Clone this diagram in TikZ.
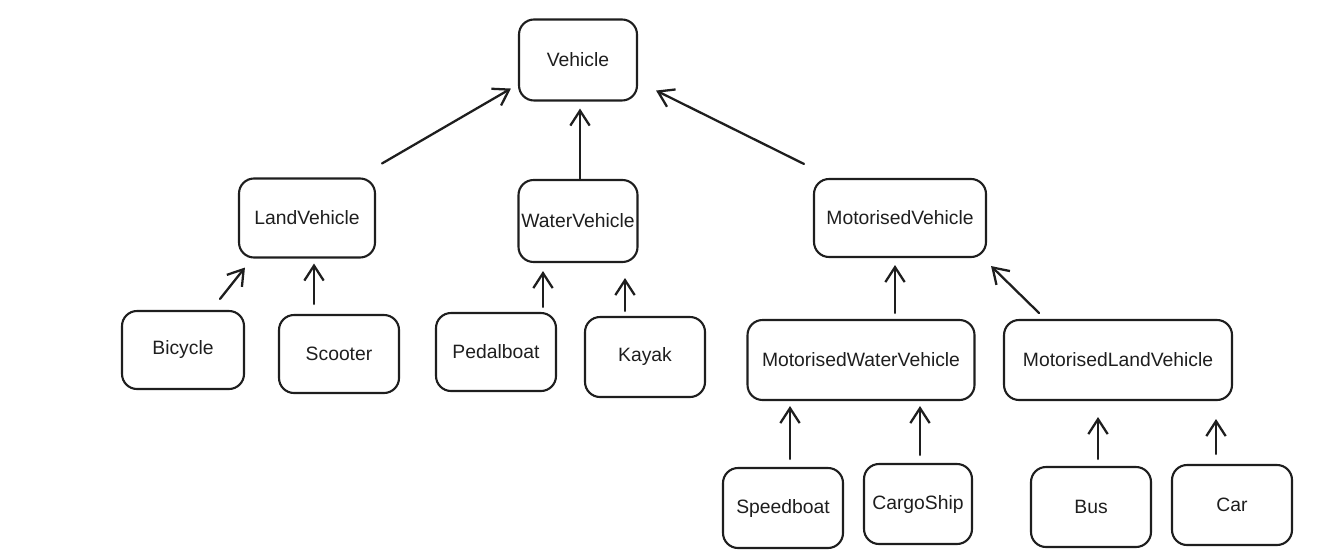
\documentclass[tikz,border=0pt]{standalone}
\usepackage{fontspec}
\setmainfont{Liberation Sans}
\usetikzlibrary{arrows.meta}
\definecolor{ink}{HTML}{1E1E1E}
\tikzstyle{cls} = [draw=ink, text=ink, line width=1.2pt, rounded corners=0.3cm, font=\fontsize{11}{13}\selectfont, minimum height=1.6cm]
\tikzstyle{arr} = [draw=ink, line width=1.3pt, line cap=round, -{Straight Barb[length=8.5pt,width=11pt]}]

\begin{document}
\begin{tikzpicture}[x=0.02cm, y=-0.02cm]
  \useasboundingbox (0,0) rectangle (1331,557);
  \node (v) at ( 578,60) [cls, minimum width=2.36cm, minimum height=1.62cm] {Vehicle};
  \node (lv) at ( 307,218) [cls, minimum width=2.72cm, minimum height=1.58cm] {LandVehicle};
  \node (wv) at ( 578,221) [cls, inner xsep=1.5pt, minimum width=2.38cm, minimum height=1.64cm] {WaterVehicle};
  \node (mv) at ( 900,218) [cls, minimum width=3.44cm, minimum height=1.56cm] {MotorisedVehicle};
  \node (bi) at ( 183,350) [cls, minimum width=2.44cm, minimum height=1.56cm] {Bicycle};
  \node (sc) at ( 339,354) [cls, minimum width=2.4cm, minimum height=1.56cm] {Scooter};
  \node (pb) at ( 496,352) [cls, minimum width=2.4cm, minimum height=1.56cm] {Pedalboat};
  \node (ka) at ( 645,357) [cls, minimum width=2.4cm] {Kayak};
  \node (mwv) at ( 861,360) [cls, minimum width=4.54cm] {MotorisedWaterVehicle};
  \node (mlv) at ( 1118,360) [cls, minimum width=4.56cm] {MotorisedLandVehicle};
  \node (sb) at ( 783,508) [cls, minimum width=2.4cm] {Speedboat};
  \node (cs) at ( 918,504) [cls, minimum width=2.16cm] {CargoShip};
  \node (bu) at ( 1091,507) [cls, minimum width=2.4cm] {Bus};
  \node (ca) at ( 1232,505) [cls, minimum width=2.4cm] {Car};
  \draw [arr] ([shift={(6,-14)}]lv.north east) to ([shift={(-7,-13)}]v.south west);
  \draw [arr] ([shift={(2,0)}]wv.north) to ([shift={(2,7)}]v.south);
  \draw [arr] ([shift={(-9,-14)}]mv.north west) to ([shift={(18,-11)}]v.south east);
  \draw [arr] ([shift={(37,-11)}]bi.north) to ([shift={(7,9)}]lv.south west);
  \draw [arr] ([shift={(-25,-10)}]sc.north) to ([shift={(7,5)}]lv.south);
  \draw [arr] ([shift={(47,-5)}]pb.north) to ([shift={(-35,8)}]wv.south);
  \draw [arr] ([shift={(-20,-5)}]ka.north) to ([shift={(47,15)}]wv.south);
  \draw [arr] ([shift={(34,-6)}]mwv.north) to ([shift={(-5,7)}]mv.south);
  \draw [arr] ([shift={(36,-6)}]mlv.north west) to ([shift={(4,8)}]mv.south east);
  \draw [arr] ([shift={(7,-8)}]sb.north) to ([shift={(-71,5)}]mwv.south);
  \draw [arr] ([shift={(2,-8)}]cs.north) to ([shift={(59,5)}]mwv.south);
  \draw [arr] ([shift={(7,-7)}]bu.north) to ([shift={(-20,16)}]mlv.south);
  \draw [arr] ([shift={(-16,-10)}]ca.north) to ([shift={(98,18)}]mlv.south);
\end{tikzpicture}
\end{document}
